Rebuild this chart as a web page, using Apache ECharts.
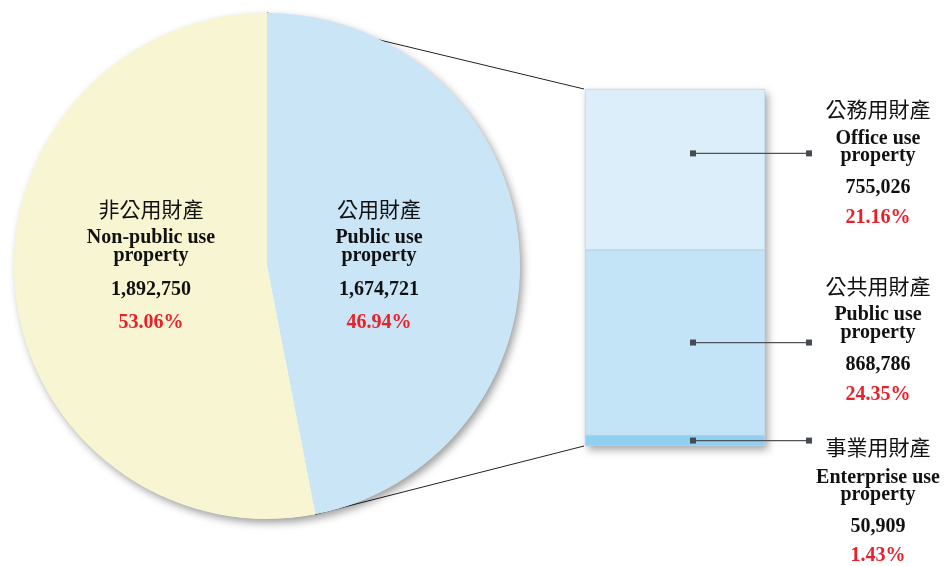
<!DOCTYPE html>
<html>
<head>
<meta charset="utf-8">
<script src="https://cdn.jsdelivr.net/npm/echarts@6/dist/echarts.min.js"></script>
<style>html,body{margin:0;padding:0;background:#fff}#c{width:946px;height:566px}</style>
</head>
<body>
<div id="c"></div>
<script>
// ---- data ----
var pieNamesZh = ['公用財產', '非公用財產'];
var pieNamesEn = [['Public use', 'property'], ['Non-public use', 'property']];
var pieValues = [1674721, 1892750];
var piePercents = ['46.94%', '53.06%'];

var barNamesZh = ['公務用財產', '公共用財產', '事業用財產'];
var barNamesEn = [['Office use', 'property'], ['Public use', 'property'], ['Enterprise use', 'property']];
var barValues = [755026, 868786, 50909];
var barPercents = ['21.16%', '24.35%', '1.43%'];

// ---- styling ----
var pieColors = ['#c9e5f6', '#f8f5d2'];
var barColors = ['#dbeef9', '#c3e3f6', '#8fd0f1'];
var CX = 267, CY = 266, R = 253;

function fmt(n) { return n.toLocaleString('en-US'); }

var chart = echarts.init(document.getElementById('c'), null, {renderer: 'canvas'});
var total = barValues.reduce(function (a, b) { return a + b; }, 0);

// stacked bar: bottom first
var barSeries = [];
for (var i = barValues.length - 1; i >= 0; i--) {
  barSeries.push({
    type: 'bar', stack: 's', barWidth: '100%', silent: true,
    name: barNamesZh[i],
    data: [barValues[i]],
    itemStyle: {color: barColors[i], borderColor: '#a9c8da', borderWidth: 0.6},
    z: 3
  });
}

chart.setOption({
  animation: false,
  grid: {left: 585, top: 89, width: 180, height: 357},
  xAxis: {type: 'category', data: [''], show: false},
  yAxis: {type: 'value', min: 0, max: total, show: false},
  series: [{
    type: 'pie', center: [CX, CY], radius: R, startAngle: 90, clockwise: true,
    silent: true, label: {show: false}, labelLine: {show: false}, z: 5,
    data: pieValues.map(function (v, k) { return {value: v, name: pieNamesZh[k], itemStyle: {color: pieColors[k]}}; })
  }].concat(barSeries)
});

// ---- decorations computed from data / scales ----
var gfx = [];
var zhFont = '"Noto Sans CJK TC","Noto Sans CJK SC",sans-serif';
var enFont = '"Liberation Serif","Times New Roman",serif';
function txt(x, y, s, kind) {
  var st = {text: s, x: x, y: y, align: 'center', verticalAlign: 'middle'};
  if (kind === 'zh') { st.font = 'normal 21px ' + zhFont; st.fill = '#111'; }
  else if (kind === 'en') { st.font = 'bold 20px ' + enFont; st.fill = '#111'; }
  else if (kind === 'num') { st.font = 'bold 20px ' + enFont; st.fill = '#111'; }
  else { st.font = 'bold 20px ' + enFont; st.fill = '#e8202a'; }
  gfx.push({type: 'text', z: 20, style: st});
}
function block(x, y0, zh, en, num, pct, gaps) {
  var y = y0;
  txt(x, y, zh, 'zh'); y += gaps[0];
  txt(x, y, en[0], 'en'); y += gaps[1];
  txt(x, y, en[1], 'en'); y += gaps[2];
  txt(x, y, num, 'num'); y += gaps[3];
  txt(x, y, pct, 'pct');
}

// pie shadow disc
gfx.push({type: 'circle', z: 1, shape: {cx: CX, cy: CY, r: R - 0.5},
  style: {fill: '#ffffff', shadowBlur: 9, shadowOffsetX: 3, shadowOffsetY: 4, shadowColor: 'rgba(0,0,0,0.4)'}});

// pie labels
block(379, 209, pieNamesZh[0], pieNamesEn[0], fmt(pieValues[0]), piePercents[0], [29, 18, 34, 33]);
block(151, 209, pieNamesZh[1], pieNamesEn[1], fmt(pieValues[1]), piePercents[1], [29, 18, 34, 33]);

// bar geometry via scales
var barL = 585, barR = 765, anchorX = barL + (barR - barL) * 0.6;
var yTop = chart.convertToPixel({yAxisIndex: 0}, total);
var yBot = chart.convertToPixel({yAxisIndex: 0}, 0);

// shadow behind the bar
gfx.push({type: 'rect', z: 1, shape: {x: barL, y: yTop, width: barR - barL, height: yBot - yTop},
  style: {fill: '#ffffff', shadowBlur: 8, shadowOffsetX: 3, shadowOffsetY: 4, shadowColor: 'rgba(0,0,0,0.35)'}});

// zoom lines from pie to bar (drawn under the pie)
var ang = (90 - 360 * pieValues[0] / (pieValues[0] + pieValues[1])) * Math.PI / 180;
var bx = CX + R * Math.cos(ang), by = CY - R * Math.sin(ang);
gfx.push({type: 'line', z: 0, shape: {x1: CX, y1: CY - R, x2: barL - 1, y2: yTop}, style: {stroke: '#222', lineWidth: 1}});
gfx.push({type: 'line', z: 0, shape: {x1: bx, y1: by, x2: barL - 1, y2: yBot}, style: {stroke: '#222', lineWidth: 1}});

// connectors
var frac = [0.4, 0.5, 0.5];
var cum = total;
var connY = [];
for (var j = 0; j < barValues.length; j++) {
  var segTop = chart.convertToPixel({yAxisIndex: 0}, cum);
  var segBot = chart.convertToPixel({yAxisIndex: 0}, cum - barValues[j]);
  connY.push(segTop + (segBot - segTop) * frac[j]);
  cum -= barValues[j];
}
connY.forEach(function (cy) {
  gfx.push({type: 'line', z: 10, shape: {x1: anchorX, y1: cy, x2: 809, y2: cy}, style: {stroke: '#4f5358', lineWidth: 1.3}});
  gfx.push({type: 'rect', z: 10, shape: {x: anchorX - 3, y: cy - 3, width: 6, height: 6}, style: {fill: '#464b52'}});
  gfx.push({type: 'rect', z: 10, shape: {x: 806, y: cy - 3, width: 6, height: 6}, style: {fill: '#464b52'}});
});

// right labels
var rx = 878;
block(rx, 109, barNamesZh[0], barNamesEn[0], fmt(barValues[0]), barPercents[0], [30, 17, 32, 30]);
block(rx, 286, barNamesZh[1], barNamesEn[1], fmt(barValues[1]), barPercents[1], [29, 18, 32, 30]);
block(rx, 447, barNamesZh[2], barNamesEn[2], fmt(barValues[2]), barPercents[2], [31, 17, 32, 29]);

chart.setOption({graphic: {elements: gfx}});
</script>
</body>
</html>
